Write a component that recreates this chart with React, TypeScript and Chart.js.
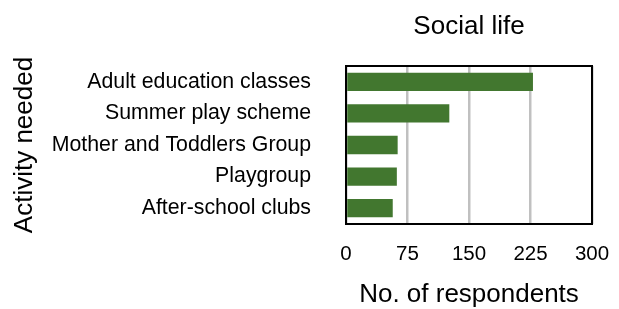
import React, { useEffect, useRef } from "react";
import { Chart, registerables } from "chart.js";

Chart.register(...registerables);

const categories = [
  "Adult education classes",
  "Summer play scheme",
  "Mother and Toddlers Group",
  "Playgroup",
  "After-school clubs",
];
const respondents = [228, 126, 63, 62, 57];
const xTicks = [0, 75, 150, 225, 300];

const FONT = "'Liberation Sans', Arial, Helvetica, sans-serif";

const frame = {
  id: "frame",
  afterDraw(chart: any) {
    const { ctx, chartArea } = chart;
    ctx.save();
    ctx.strokeStyle = "#000";
    ctx.lineWidth = 2;
    ctx.strokeRect(chartArea.left, chartArea.top, chartArea.right - chartArea.left, chartArea.bottom - chartArea.top);
    ctx.restore();
  },
};

export default function App() {
  const ref = useRef<HTMLCanvasElement>(null);
  useEffect(() => {
    if (!ref.current) return;
    const chart = new Chart(ref.current, {
      type: "bar",
      data: {
        labels: categories,
        datasets: [
          {
            data: respondents,
            backgroundColor: "#42772f",
            barPercentage: 0.58,
            categoryPercentage: 1,
          },
        ],
      },
      options: {
        indexAxis: "y",
        responsive: false,
        animation: false,
        layout: { padding: { left: 0, right: 27, top: 0, bottom: 0 } },
        plugins: { legend: { display: false }, tooltip: { enabled: false }, title: { display: false } },
        scales: {
          x: {
            min: 0,
            max: 300,
            afterBuildTicks: (axis: any) => {
              axis.ticks = xTicks.map((v) => ({ value: v }));
            },
            afterFit: (axis: any) => {
              axis.height = 85;
              axis.paddingLeft = 0;
              axis.paddingRight = 0;
            },
            grid: {
              color: "#c0c0c0",
              lineWidth: 2.5,
              drawTicks: false,
            },
            border: { display: false },
            ticks: { color: "#000", font: { family: FONT, size: 20.5 }, padding: 18.5, maxRotation: 0 },
            title: {
              display: true,
              text: "No. of respondents",
              color: "#000",
              font: { family: FONT, size: 26 },
              padding: { top: 0, bottom: -1.6 },
            },
          },
          x2: {
            type: "linear",
            position: "top",
            display: true,
            afterFit: (axis: any) => {
              axis.height = 66;
              axis.paddingLeft = 0;
              axis.paddingRight = 0;
            },
            grid: { display: false },
            border: { display: false },
            ticks: { display: false },
            title: {
              display: true,
              text: "Social life",
              color: "#000",
              font: { family: FONT, size: 26 },
              padding: { top: 11.4, bottom: 0 },
            },
          },
          y: {
            afterFit: (axis: any) => {
              axis.width = 346;
            },
            grid: { display: false, drawTicks: false },
            border: { display: false },
            ticks: { color: "#000", font: { family: FONT, size: 21.3 }, padding: 35 },
            title: {
              display: true,
              text: "Activity needed",
              color: "#000",
              font: { family: FONT, size: 26 },
              padding: { top: 9.4, bottom: 0 },
            },
          },
        },
      },
      plugins: [frame],
    } as any);
    return () => chart.destroy();
  }, []);
  return (
    <div style={{ position: "absolute", left: 0, top: 0, width: 619, height: 309 }}>
      <canvas ref={ref} width={619} height={309} />
    </div>
  );
}
